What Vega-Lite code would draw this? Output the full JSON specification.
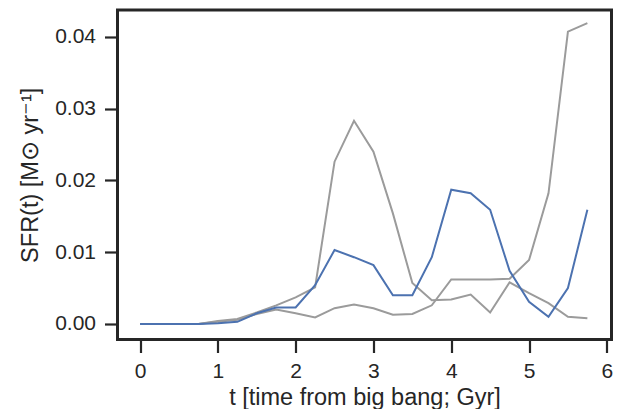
{
  "$schema": "https://vega.github.io/schema/vega-lite/v6.json",
  "autosize": {"type": "none"},
  "padding": {"left": 117.5, "top": 10, "right": 5.5, "bottom": 69.5},
  "width": 494,
  "height": 329.5,
  "background": "white",
  "config": {
    "view": {"stroke": "#262626", "strokeWidth": 3},
    "font": "Liberation Sans",
    "axis": {
      "domain": false,
      "grid": false,
      "ticks": true,
      "tickColor": "#262626",
      "tickWidth": 2.2,
      "tickSize": 13,
      "labelColor": "#262626",
      "labelFont": "Liberation Sans",
      "labelFontSize": 21,
      "titleColor": "#262626",
      "titleFont": "Liberation Sans",
      "titleFontSize": 23.5,
      "titleFontWeight": "normal"
    }
  },
  "datasets": {
    "runs": [
      {"t": 0.0, "sfr": 0.0, "run": "a"}, {"t": 0.25, "sfr": 0.0, "run": "a"}, {"t": 0.5, "sfr": 0.0, "run": "a"}, {"t": 0.75, "sfr": 0.0, "run": "a"},
      {"t": 1.0, "sfr": 0.0004, "run": "a"}, {"t": 1.25, "sfr": 0.0007, "run": "a"}, {"t": 1.5, "sfr": 0.0016, "run": "a"}, {"t": 1.75, "sfr": 0.0026, "run": "a"},
      {"t": 2.0, "sfr": 0.0037, "run": "a"}, {"t": 2.25, "sfr": 0.0051, "run": "a"}, {"t": 2.5, "sfr": 0.0226, "run": "a"}, {"t": 2.75, "sfr": 0.0283, "run": "a"},
      {"t": 3.0, "sfr": 0.024, "run": "a"}, {"t": 3.25, "sfr": 0.0154, "run": "a"}, {"t": 3.5, "sfr": 0.0057, "run": "a"}, {"t": 3.75, "sfr": 0.0033, "run": "a"},
      {"t": 4.0, "sfr": 0.0034, "run": "a"}, {"t": 4.25, "sfr": 0.0041, "run": "a"}, {"t": 4.5, "sfr": 0.0016, "run": "a"}, {"t": 4.75, "sfr": 0.0058, "run": "a"},
      {"t": 5.0, "sfr": 0.0043, "run": "a"}, {"t": 5.25, "sfr": 0.0029, "run": "a"}, {"t": 5.5, "sfr": 0.001, "run": "a"}, {"t": 5.75, "sfr": 0.0008, "run": "a"},
      {"t": 0.0, "sfr": 0.0, "run": "b"}, {"t": 0.25, "sfr": 0.0, "run": "b"}, {"t": 0.5, "sfr": 0.0, "run": "b"}, {"t": 0.75, "sfr": 0.0, "run": "b"},
      {"t": 1.0, "sfr": 0.0003, "run": "b"}, {"t": 1.25, "sfr": 0.0006, "run": "b"}, {"t": 1.5, "sfr": 0.0014, "run": "b"}, {"t": 1.75, "sfr": 0.002, "run": "b"},
      {"t": 2.0, "sfr": 0.0015, "run": "b"}, {"t": 2.25, "sfr": 0.0009, "run": "b"}, {"t": 2.5, "sfr": 0.0022, "run": "b"}, {"t": 2.75, "sfr": 0.0027, "run": "b"},
      {"t": 3.0, "sfr": 0.0022, "run": "b"}, {"t": 3.25, "sfr": 0.0013, "run": "b"}, {"t": 3.5, "sfr": 0.0014, "run": "b"}, {"t": 3.75, "sfr": 0.0026, "run": "b"},
      {"t": 4.0, "sfr": 0.0062, "run": "b"}, {"t": 4.25, "sfr": 0.0062, "run": "b"}, {"t": 4.5, "sfr": 0.0062, "run": "b"}, {"t": 4.75, "sfr": 0.0063, "run": "b"},
      {"t": 5.0, "sfr": 0.0089, "run": "b"}, {"t": 5.25, "sfr": 0.0182, "run": "b"}, {"t": 5.5, "sfr": 0.0407, "run": "b"}, {"t": 5.75, "sfr": 0.0419, "run": "b"}
    ],
    "best": [
      {"t": 0.0, "sfr": 0.0}, {"t": 0.25, "sfr": 0.0}, {"t": 0.5, "sfr": 0.0}, {"t": 0.75, "sfr": 0.0},
      {"t": 1.0, "sfr": 0.0001}, {"t": 1.25, "sfr": 0.0003}, {"t": 1.5, "sfr": 0.0015}, {"t": 1.75, "sfr": 0.0023},
      {"t": 2.0, "sfr": 0.0023}, {"t": 2.25, "sfr": 0.0054}, {"t": 2.5, "sfr": 0.0103}, {"t": 2.75, "sfr": 0.0093},
      {"t": 3.0, "sfr": 0.0082}, {"t": 3.25, "sfr": 0.004}, {"t": 3.5, "sfr": 0.004}, {"t": 3.75, "sfr": 0.0093},
      {"t": 4.0, "sfr": 0.0187}, {"t": 4.25, "sfr": 0.0182}, {"t": 4.5, "sfr": 0.0159}, {"t": 4.75, "sfr": 0.0074},
      {"t": 5.0, "sfr": 0.0031}, {"t": 5.25, "sfr": 0.001}, {"t": 5.5, "sfr": 0.005}, {"t": 5.75, "sfr": 0.0159}
    ]
  },
  "encoding": {
    "x": {
      "field": "t", "type": "quantitative",
      "scale": {"domain": [-0.29, 6.06], "nice": false, "zero": false},
      "axis": {"values": [0, 1, 2, 3, 4, 5, 6], "format": "d", "title": "t [time from big bang; Gyr]", "labelPadding": 8, "titlePadding": 4}
    },
    "y": {
      "field": "sfr", "type": "quantitative",
      "scale": {"domain": [-0.00216, 0.04372], "nice": false, "zero": false},
      "axis": {"values": [0, 0.01, 0.02, 0.03, 0.04], "format": ".2f", "title": "SFR(t) [M⊙ yr⁻¹]", "labelPadding": 9, "titlePadding": 12}
    }
  },
  "layer": [
    {
      "data": {"name": "runs"},
      "mark": {"type": "line", "color": "#9b9b9b", "strokeWidth": 2, "clip": true},
      "encoding": {"detail": {"field": "run"}}
    },
    {
      "data": {"name": "best"},
      "mark": {"type": "line", "color": "#4c72b0", "strokeWidth": 2, "clip": true}
    }
  ]
}
